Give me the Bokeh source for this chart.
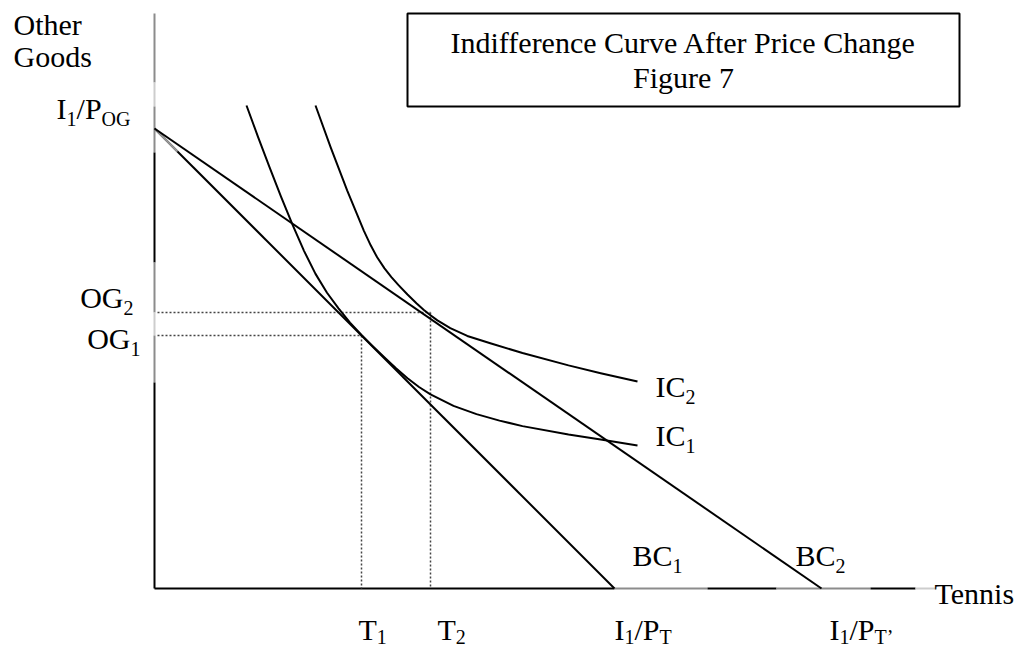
from bokeh.plotting import figure
from bokeh.models import ColumnDataSource, Range1d
from bokeh.embed import file_html
from bokeh.resources import INLINE
from bokeh.core.properties import value

# ---------------- data (economic units) ----------------
income_over_p_og = 100      # I1/P_OG : vertical intercept of both budget lines
income_over_p_t = 100       # I1/P_T  : BC1 horizontal intercept
income_over_p_t2 = 145      # I1/P_T' : BC2 horizontal intercept
t_values = [45, 60]         # T1, T2
og_values = [55, 60]        # OG1, OG2

ic1_x = [20, 22.5, 25, 27.5, 30, 32.5, 35, 37.5, 40, 42.5, 45, 47.5, 50, 52.5,
         55, 57.5, 60, 65, 70, 75, 80, 90, 97, 105]
ic1_y = [105, 98.2, 91.6, 85.2, 79.1, 73.4, 68.4, 64.3, 60.9, 57.8, 55.1, 52.6,
         50.2, 47.9, 45.7, 43.8, 42.2, 39.7, 37.9, 36.5, 35.3, 33.5, 32.4, 31.1]

ic2_x = [35, 38.3, 41.9, 45.5, 47, 48.4, 50, 51.5, 53, 55, 57, 58.5, 60, 61.5,
         64.3, 68, 73, 80, 90, 97, 105]
ic2_y = [105, 95.9, 86.5, 77.8, 74.6, 72.0, 69.6, 67.7, 66.0, 63.9, 61.95, 60.6,
         59.4, 58.3, 56.6, 54.9, 53.3, 51.2, 48.5, 46.8, 45.0]

axis_x_max = 170
axis_y_max = 125

title_lines = ["Indifference Curve After Price Change", "Figure 7"]

# ---------------- layout helpers (picture pixels) ----------------
W, H = 1017, 648
OX, OY = 154, 588          # pixel of the origin
S = 4.6                    # pixels per unit


def ux(px):
    return (px - OX) / S


def uy(py):
    return (OY - py) / S


def px(u):
    return OX + u * S


def py(u):
    return OY - u * S


p = figure(width=W, height=H, title=None,
           x_range=Range1d(ux(0), ux(W)),
           y_range=Range1d(uy(H), uy(0)),
           x_axis_type=None, y_axis_type=None,
           output_backend="svg", toolbar_location=None, min_border=0)
p.grid.visible = False
p.outline_line_color = None
p.background_fill_color = "white"
p.border_fill_color = "white"

BLACK = "black"
GRAY = "#8c8c8c"
LIGHT = "#cdcdcd"

# ---------------- axes drawn as lines ----------------
y_axis_parts = [(py(axis_y_max), 82, GRAY), (82, 106, LIGHT), (106, 152, GRAY), (152, 262, BLACK),
                (262, py(og_values[1]), GRAY), (py(og_values[1]), py(og_values[0]), LIGHT),
                (py(og_values[0]), 382, GRAY), (382, OY, BLACK)]
p.segment(x0=[0] * len(y_axis_parts), x1=[0] * len(y_axis_parts),
          y0=[uy(a) for a, b, c in y_axis_parts], y1=[uy(b) for a, b, c in y_axis_parts],
          line_color=[c for a, b, c in y_axis_parts], line_width=2)

x_axis_parts = [(OX, px(income_over_p_t), BLACK), (px(income_over_p_t), 707, GRAY),
                (707, 776, BLACK), (776, 870, GRAY), (870, 915, BLACK),
                (915, px(axis_x_max), LIGHT)]
p.segment(x0=[ux(a) for a, b, c in x_axis_parts], x1=[ux(b) for a, b, c in x_axis_parts],
          y0=[0] * len(x_axis_parts), y1=[0] * len(x_axis_parts),
          line_color=[c for a, b, c in x_axis_parts], line_width=2)

# ---------------- dotted guides ----------------
dot = dict(line_color="#444444", line_width=1.5, line_dash="2 2")
p.segment(x0=[ux(157), ux(157)], x1=t_values, y0=og_values, y1=og_values, **dot)
p.segment(x0=t_values, x1=t_values, y0=og_values, y1=[0, 0], **dot)

# ---------------- budget lines ----------------
p.line([0, income_over_p_t], [income_over_p_og, 0], line_color=BLACK, line_width=2)
p.line([0, 5], [income_over_p_og, income_over_p_og - 5], line_color="#9a9a9a", line_width=2)
p.line([0, income_over_p_t2], [income_over_p_og, 0], line_color=BLACK, line_width=2)

# ---------------- indifference curves ----------------
p.line(ic1_x, ic1_y, line_color=BLACK, line_width=2, line_join="round")
p.line(ic2_x, ic2_y, line_color=BLACK, line_width=2, line_join="round")

# ---------------- title box ----------------
p.quad(left=[ux(407)], right=[ux(959)], top=[uy(13)], bottom=[uy(106)],
       fill_alpha=0, line_color=BLACK, line_width=2)

# ---------------- texts ----------------
MAIN, SUB, DROP = 30, 20, 7
LIFT = 0.35                # renderer places the alphabetic baseline ~0.35em low
CW = {"I": .333, "1": .5, "2": .5, "/": .278, "P": .556, "O": .722, "G": .722,
      "T": .611, "C": .667, "B": .667, "\u2019": .333}


def tw(s, size):
    return sum(CW.get(c, .5) for c in s) * size


txt = dict(x=[], y=[], text=[], size=[])


def label(x0, base, pieces, right=False, drop=DROP):
    total = sum(tw(s, SUB if sub else MAIN) for s, sub in pieces)
    x = x0 - total if right else x0
    for s, sub in pieces:
        size = SUB if sub else MAIN
        txt["x"].append(ux(x))
        txt["y"].append(uy(base + (drop if sub else 0) - LIFT * size))
        txt["text"].append(s)
        txt["size"].append(f"{size}px")
        x += tw(s, size)


M_, S_ = False, True
BOTTOM = 639
label(OX - 24, py(income_over_p_og) - 10, [("I", M_), ("1", S_), ("/P", M_), ("OG", S_)], right=True)
label(OX - 21, py(og_values[1]) - 5, [("OG", M_), ("2", S_)], right=True)
label(OX - 14, py(og_values[0]) + 13, [("OG", M_), ("1", S_)], right=True)
label(px(t_values[0]) - 3, BOTTOM, [("T", M_), ("1", S_)], drop=4)
label(px(t_values[1]) + 7, BOTTOM, [("T", M_), ("2", S_)], drop=4)
label(px(income_over_p_t), BOTTOM, [("I", M_), ("1", S_), ("/P", M_), ("T", S_)], drop=4)
label(px(income_over_p_t2) + 8, BOTTOM, [("I", M_), ("1", S_), ("/P", M_), ("T\u2019", S_)], drop=4)
label(px(income_over_p_t) + 18, 565, [("BC", M_), ("1", S_)])
label(px(income_over_p_t2) - 26, 565, [("BC", M_), ("2", S_)])
label(px(ic2_x[-1]) + 18, py(ic2_y[-1]) + 15, [("IC", M_), ("2", S_)])
label(px(ic1_x[-1]) + 18, py(ic1_y[-1]) + 1, [("IC", M_), ("1", S_)])
label(934, 603, [("Tennis", M_)])
label(13, 34, [("Other", M_)])
label(13, 66, [("Goods", M_)])

p.text(x="x", y="y", text="text", text_font_size="size", source=ColumnDataSource(txt),
       text_font=value("Liberation Serif"), text_color=BLACK,
       text_align="left", text_baseline="alphabetic")

center = ux((407 + 959) / 2)
p.text(x=[center, center], y=[uy(52 - LIFT * MAIN), uy(87 - LIFT * MAIN)], text=title_lines,
       text_font=value("Liberation Serif"), text_font_size="30px", text_color=BLACK,
       text_align="center", text_baseline="alphabetic")

open("out.html", "w").write(file_html(p, INLINE))
